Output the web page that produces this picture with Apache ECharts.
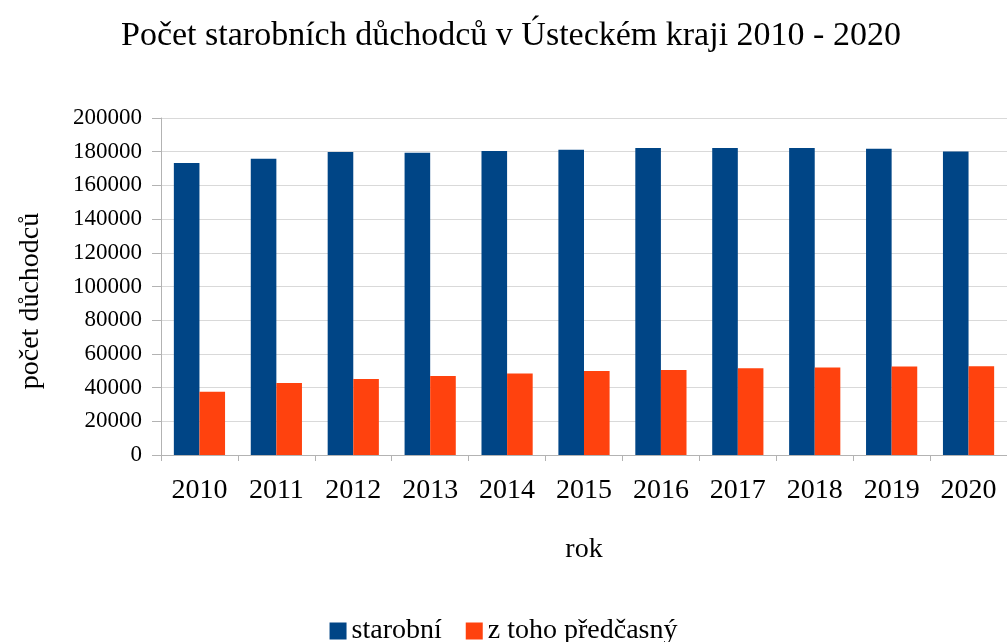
<!DOCTYPE html>
<html>
<head>
<meta charset="utf-8">
<script src="https://cdn.jsdelivr.net/npm/echarts@6/dist/echarts.min.js"></script>
<style>
  html, body { margin: 0; padding: 0; background: #fff; }
  #chart { width: 1007px; height: 642px; }
</style>
</head>
<body>
<div id="chart"></div>
<script>
// roky a hodnoty
const years = ["2010", "2011", "2012", "2013", "2014", "2015", "2016", "2017", "2018", "2019", "2020"];
const starobni = [173300, 175800, 179800, 179400, 180400, 181200, 182200, 182200, 182200, 181800, 180100];
const predcasny = [37600, 42800, 45100, 46900, 48300, 49900, 50500, 51500, 51900, 52500, 52700];
const seriesNames = ["starobní", "z toho předčasný"];

const FONT = "Liberation Serif";

const chart = echarts.init(document.getElementById("chart"), null, { renderer: "canvas" });

const option = {
  animation: false,
  backgroundColor: "#fff",
  textStyle: { fontFamily: FONT },
  title: {
    text: "Počet starobních důchodců v Ústeckém kraji 2010 - 2020",
    left: 116,
    top: 14,
    textStyle: { fontFamily: FONT, fontSize: 34, fontWeight: "normal", color: "#000" }
  },
  legend: {
    data: seriesNames,
    left: "center",
    top: 612,
    icon: "rect",
    itemWidth: 17,
    itemHeight: 17,
    itemGap: 24,
    textStyle: { fontFamily: FONT, fontSize: 28, color: "#000" }
  },
  // popisek osy y (posunutý níž než střed osy, jako v originále)
  graphic: [
    {
      type: "text",
      x: 31,
      y: 301,
      rotation: Math.PI / 2,
      style: {
        text: "počet důchodců",
        fontFamily: FONT,
        fontSize: 28,
        fill: "#000",
        align: "center",
        verticalAlign: "middle"
      }
    }
  ],
  grid: { left: 161, top: 118, width: 846, height: 337, containLabel: false },
  xAxis: {
    type: "category",
    data: years,
    name: "rok",
    nameLocation: "middle",
    nameGap: 81,
    nameTextStyle: { fontFamily: FONT, fontSize: 28, color: "#000" },
    axisLine: { lineStyle: { color: "#b3b3b3" } },
    axisTick: { show: true, length: 6, lineStyle: { color: "#b3b3b3" } },
    axisLabel: { fontFamily: FONT, fontSize: 28, color: "#000", margin: 22 },
    splitLine: { show: false }
  },
  yAxis: {
    type: "value",
    min: 0,
    max: 200000,
    interval: 20000,
    axisLine: { show: true, lineStyle: { color: "#b3b3b3" } },
    axisTick: { show: true, length: 9, lineStyle: { color: "#b3b3b3" } },
    axisLabel: {
      fontFamily: FONT,
      fontSize: 23,
      color: "#000",
      margin: 19,
      formatter: function (v) { return String(v); }
    },
    splitLine: { show: true, lineStyle: { color: "#d9d9d9" } }
  },
  series: [
    {
      name: seriesNames[0],
      type: "bar",
      data: starobni,
      barWidth: 25.6,
      barGap: "0%",
      itemStyle: { color: "#004586" }
    },
    {
      name: seriesNames[1],
      type: "bar",
      data: predcasny,
      barWidth: 25.6,
      barGap: "0%",
      itemStyle: { color: "#ff420e" }
    }
  ]
};

chart.setOption(option);
</script>
</body>
</html>
